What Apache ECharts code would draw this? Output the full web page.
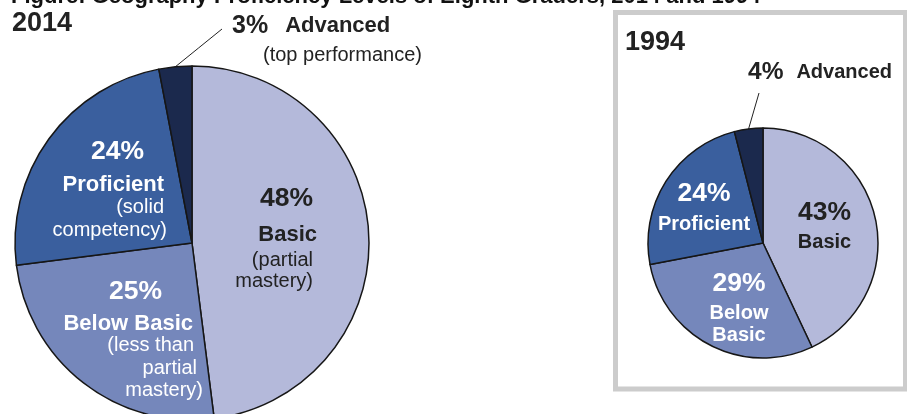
<!DOCTYPE html>
<html><head><meta charset="utf-8">
<script src="https://cdn.jsdelivr.net/npm/echarts@6/dist/echarts.min.js"></script>
<style>html,body{margin:0;padding:0;background:#fff}#c{width:907px;height:414px}</style>
</head><body><div id="c"></div>
<script>
// ---------------- data ----------------
const titleText = 'Figure: Geography Proficiency Levels of Eighth Graders, 2014 and 1994';
const years = ['2014', '1994'];
const categories = ['Basic', 'Below Basic', 'Proficient', 'Advanced'];
const values2014 = [48, 25, 24, 3];
const values1994 = [43, 29, 24, 4];
const notes2014 = [['(partial', 'mastery)'], ['(less than', 'partial', 'mastery)'], ['(solid', 'competency)'], ['(top performance)']];
const notes1994 = [[], [], [], []];

// ---------------- styles / layout ----------------
const FONT = "'Liberation Sans', Arial, Helvetica, sans-serif";
const colors = ['#b4b9da', '#7587bb', '#3a5f9e', '#1b294d'];
const DARK = '#222222', WHITE = '#ffffff';

const pieGeom = [
  {center: [192, 243], radius: 177, lineEnd: [222, 29]},
  {center: [763, 243], radius: 115, lineEnd: [759, 93]}
];

// per-label layout: anchor point (block top) + per-line typography
const labelSpecs = [
  [
    {x: 317, y: 178.5, align: 'right', color: DARK, lines: [
      {fs: 26.5, b: true, lh: 41, pad: 4}, {fs: 22, b: true, lh: 30, pad: 0},
      {fs: 20, lh: 21, pad: 4}, {fs: 20, lh: 21, pad: 4}]},
    {x: 203, y: 270.5, align: 'right', color: WHITE, lines: [
      {fs: 26.5, b: true, lh: 42.5, pad: 41}, {fs: 22, b: true, lh: 21.5, pad: 10},
      {fs: 20, lh: 22.5, pad: 9}, {fs: 20, lh: 22.5, pad: 6}, {fs: 20, lh: 22.5, pad: 0}]},
    {x: 167, y: 129.7, align: 'right', color: WHITE, lines: [
      {fs: 26.5, b: true, lh: 44, pad: 23}, {fs: 22, b: true, lh: 22.6, pad: 3},
      {fs: 20, lh: 23, pad: 3}, {fs: 20, lh: 23, pad: 0}]},
    {x: 232, y: 11, align: 'left', color: DARK, inline: true,
      pct: {fs: 25, lh: 30}, name: {fs: 22, padL: 17}, note: {fs: 20, lh: 28, padL: 31}}
  ],
  [
    {x: 824.5, y: 198, align: 'center', color: DARK, lines: [
      {fs: 26.5, b: true, lh: 30, pad: 0}, {fs: 20, b: true, lh: 29, pad: 0}]},
    {x: 739, y: 265.5, align: 'center', color: WHITE, splitName: true, lines: [
      {fs: 26.5, b: true, lh: 37, pad: 0}, {fs: 20, b: true, lh: 22, pad: 0}, {fs: 20, b: true, lh: 22, pad: 0}]},
    {x: 704, y: 178, align: 'center', color: WHITE, lines: [
      {fs: 26.5, b: true, lh: 32, pad: 0}, {fs: 20, b: true, lh: 29, pad: 0}]},
    {x: 748, y: 57.5, align: 'left', color: DARK, inline: true,
      pct: {fs: 24.5, lh: 30}, name: {fs: 20, padL: 13}, note: {fs: 20, lh: 28, padL: 0}}
  ]
];

function buildLabel(spec, pctText, name, notes) {
  const rich = {};
  let s;
  if (spec.inline) {
    rich.p = {fontSize: spec.pct.fs, fontWeight: 'bold', lineHeight: spec.pct.lh, color: spec.color, fontFamily: FONT, align: 'left'};
    rich.n = {fontSize: spec.name.fs, fontWeight: 'bold', lineHeight: spec.pct.lh, color: spec.color, fontFamily: FONT, align: 'left', padding: [0, 0, 0, spec.name.padL]};
    s = '{p|' + pctText + '}{n|' + name + '}';
    notes.forEach(function (t, i) {
      rich['s' + i] = {fontSize: spec.note.fs, fontWeight: 'normal', lineHeight: spec.note.lh, color: spec.color, fontFamily: FONT, align: 'left', padding: [0, 0, 0, spec.note.padL]};
      s += '\n{s' + i + '|' + t + '}';
    });
  } else {
    const texts = [pctText].concat(spec.splitName ? name.split(' ') : [name]).concat(notes);
    s = texts.map(function (t, i) {
      const ls = spec.lines[i];
      const pad = spec.align === 'right' ? [0, ls.pad, 0, 0] : (spec.align === 'left' ? [0, 0, 0, ls.pad] : [0, 0, 0, 0]);
      rich['l' + i] = {fontSize: ls.fs, fontWeight: ls.b ? 'bold' : 'normal', lineHeight: ls.lh, color: spec.color, fontFamily: FONT, align: spec.align, padding: pad};
      return '{l' + i + '|' + t + '}';
    }).join('\n');
  }
  return {formatter: function () { return s; }, rich: rich};
}

function edgePoint(values, idx, geom) {
  const total = values.reduce(function (a, b) { return a + b; }, 0);
  let cum = 0;
  for (let i = 0; i < idx; i++) cum += values[i];
  const frac = (cum + values[idx] / 2) / total;
  const ang = (90 - 360 * frac) * Math.PI / 180;
  return [geom.center[0] + geom.radius * Math.cos(ang), geom.center[1] - geom.radius * Math.sin(ang)];
}

function makeSeries(si, values, notes) {
  const geom = pieGeom[si];
  const specs = labelSpecs[si];
  const data = categories.map(function (name, i) {
    const spec = specs[i];
    const lbl = buildLabel(spec, values[i] + '%', name, notes[i]);
    const outside = !!spec.inline;
    return {
      name: name,
      value: values[i],
      itemStyle: {color: colors[i]},
      label: {
        show: true,
        position: outside ? 'outside' : 'inside',
        formatter: lbl.formatter,
        rich: lbl.rich,
        color: spec.color,
        fontFamily: FONT,
        width: outside ? 240 : undefined,
        overflow: 'none'
      },
      labelLine: {show: outside, lineStyle: {color: '#222', width: 1}}
    };
  });
  return {
    type: 'pie',
    center: geom.center,
    radius: geom.radius,
    startAngle: 90,
    clockwise: true,
    avoidLabelOverlap: false,
    silent: true,
    animation: false,
    emphasis: {disabled: true},
    itemStyle: {borderColor: '#161616', borderWidth: 1.5},
    label: {show: true, rotate: 0},
    labelLine: {show: false},
    labelLayout: function (p) {
      const spec = specs[p.dataIndex];
      const out = {x: spec.x, y: spec.y, align: spec.align, verticalAlign: 'top'};
      if (spec.inline) {
        const st = edgePoint(values, p.dataIndex, geom);
        out.labelLinePoints = [st, [(st[0] + geom.lineEnd[0]) / 2, (st[1] + geom.lineEnd[1]) / 2], geom.lineEnd];
      }
      return out;
    },
    data: data
  };
}

const chart = echarts.init(document.getElementById('c'), null, {renderer: 'canvas'});
chart.setOption({
  backgroundColor: '#ffffff',
  animation: false,
  title: [
    {text: titleText, left: 11, top: -14, padding: 0, textStyle: {fontSize: 22, fontWeight: 'bold', color: '#111', fontFamily: FONT}},
    {text: years[0], left: 12, top: 10, padding: 0, textStyle: {fontSize: 27, fontWeight: 'bold', color: DARK, fontFamily: FONT}},
    {text: years[1], left: 625, top: 29.5, padding: 0, textStyle: {fontSize: 27, fontWeight: 'bold', color: DARK, fontFamily: FONT}}
  ],
  graphic: [
    {type: 'rect', z: -1, shape: {x: 615.5, y: 12.5, width: 290, height: 376.5}, style: {fill: 'none', stroke: '#cccccc', lineWidth: 5}}
  ],
  series: [makeSeries(0, values2014, notes2014), makeSeries(1, values1994, notes1994)]
});
</script>
</body></html>
